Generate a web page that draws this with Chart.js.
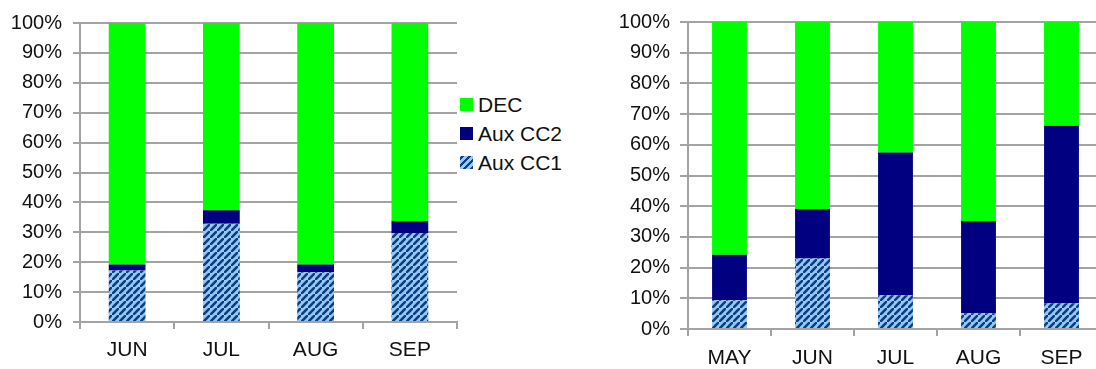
<!DOCTYPE html>
<html>
<head>
<meta charset="utf-8">
<script src="https://cdn.jsdelivr.net/npm/chart.js@4"></script>
<style>
  html, body { margin: 0; padding: 0; background: #fff; overflow: hidden; }
  body { width: 1096px; height: 369px; position: relative; }
  #wrapL { position: absolute; left: 0; top: 0; width: 460px; height: 369px; }
  #wrapR { position: absolute; left: 600px; top: 0; width: 503px; height: 369px; }
  #legend { position: absolute; left: 460px; top: 90px; font-family: "Liberation Sans", Arial, sans-serif; font-size: 21px; color: #111; }
  #legend .row { display: flex; align-items: center; height: 29px; }
  #legend .sw { width: 13px; height: 13px; margin-right: 5px; }
</style>
</head>
<body>
<div id="wrapL"><canvas id="chartL"></canvas></div>
<div id="legend"></div>
<div id="wrapR"><canvas id="chartR"></canvas></div>

<script>
// =====================
// DATOS
// =====================
const seriesNames = ["Aux CC1", "Aux CC2", "DEC"];

const monthsL = ["JUN", "JUL", "AUG", "SEP"];
const cc1L = [17.2, 32.9, 16.6, 29.8];
const cc2L = [2.0, 4.5, 2.6, 4.0];
const decL = [80.8, 62.6, 80.8, 66.2];

const monthsR = ["MAY", "JUN", "JUL", "AUG", "SEP"];
const cc1R = [9.4, 23.0, 11.0, 5.1, 8.4];
const cc2R = [14.8, 16.1, 46.5, 30.1, 57.8];
const decR = [75.8, 60.9, 42.5, 64.8, 33.8];

const yMax = 100;
const yStep = 10;

// =====================
// COLORES / PATRON
// =====================
const GREEN = "#00ff00";
const NAVY = "#000080";
const GRID = "#a3a3a3";
const FONT = "'Liberation Sans', Arial, sans-serif";

function stripePattern() {
    const n = 7;
    const c = document.createElement("canvas");
    c.width = n;
    c.height = n;
    const g = c.getContext("2d");
    g.fillStyle = "#93c9f6";
    g.fillRect(0, 0, n, n);
    g.strokeStyle = "#123c80";
    g.lineWidth = 2.6;
    g.beginPath();
    g.moveTo(-1, n + 1); g.lineTo(n + 1, -1);
    g.moveTo(-1 - n, n + 1 - n); g.lineTo(n + 1 - n, -1 - n);
    g.moveTo(-1 + n, n + 1 + n); g.lineTo(n + 1 + n, -1 + n);
    g.stroke();
    return g.createPattern(c, "repeat");
}
const STRIPES = stripePattern();
const seriesColors = [STRIPES, NAVY, GREEN];

function buildDatasets(values, barPct) {
    return values.map((v, i) => ({
        label: seriesNames[i],
        data: v,
        backgroundColor: seriesColors[i],
        borderWidth: 0,
        barPercentage: barPct,
        categoryPercentage: 1
    }));
}

function makeChart(id, labels, values, opt) {
    return new Chart(document.getElementById(id), {
        type: "bar",
        data: { labels: labels, datasets: buildDatasets(values, opt.barPct) },
        options: {
            responsive: true,
            maintainAspectRatio: false,
            animation: false,
            layout: { padding: { top: opt.top, right: opt.right, left: 0, bottom: 0 } },
            plugins: { legend: { display: false }, tooltip: { enabled: false } },
            scales: {
                x: {
                    stacked: true,
                    offset: true,
                    afterFit: s => { s.height = opt.xh; },
                    grid: { display: true, drawOnChartArea: false, drawTicks: true, tickLength: 7, offset: true, color: GRID, lineWidth: 2 },
                    border: { display: true, color: GRID, width: 2 },
                    ticks: { color: "#111", font: { family: FONT, size: 21 }, padding: opt.xpad, maxRotation: 0 }
                },
                y: {
                    stacked: true,
                    min: 0,
                    max: yMax,
                    afterFit: s => { s.width = opt.yw; },
                    grid: { color: GRID, lineWidth: 2, drawTicks: true, tickLength: opt.tl },
                    border: { display: true, color: GRID, width: 2 },
                    ticks: {
                        stepSize: yStep,
                        color: "#111",
                        font: { family: FONT, size: 20 },
                        padding: opt.ypad,
                        callback: v => v + "%"
                    }
                }
            }
        }
    });
}

makeChart("chartL", monthsL, [cc1L, cc2L, decL],
    { barPct: 0.39, top: 20, right: 3, xh: 47, yw: 80, tl: 7, ypad: 11, xpad: 9 });

makeChart("chartR", monthsR, [cc1R, cc2R, decR],
    { barPct: 0.42, top: 19, right: 0, xh: 40, yw: 88, tl: 8, ypad: 10, xpad: 10 });

// =====================
// LEYENDA
// =====================
const legend = document.getElementById("legend");
[2, 1, 0].forEach(i => {
    const row = document.createElement("div");
    row.className = "row";
    const sw = document.createElement("div");
    sw.className = "sw";
    if (i === 0) {
        sw.style.background = "repeating-linear-gradient(-45deg, #123c80 0 2.5px, #93c9f6 2.5px 5px)";
    } else {
        sw.style.background = seriesColors[i];
    }
    const txt = document.createElement("span");
    txt.textContent = seriesNames[i];
    row.appendChild(sw);
    row.appendChild(txt);
    legend.appendChild(row);
});
</script>
</body>
</html>
